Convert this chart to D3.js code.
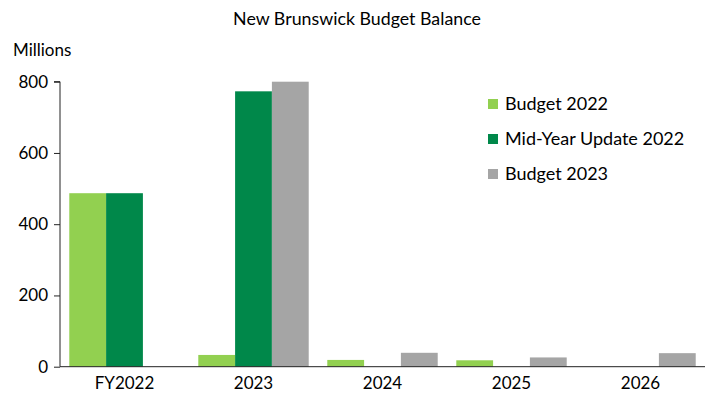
<!DOCTYPE html>
<html>
<head>
<meta charset="utf-8">
<script src="https://cdn.jsdelivr.net/npm/d3@7"></script>
<style>
  body { margin: 0; background: #fff; }
  text { font-family: Lato, "Open Sans", sans-serif; fill: #000; }
</style>
</head>
<body>
<div id="chart"></div>
<script>
const categories = ["FY2022", "2023", "2024", "2025", "2026"];
const seriesNames = ["Budget 2022", "Mid-Year Update 2022", "Budget 2023"];
const budget2022 = [487, 33, 19, 18, 0];
const midYear2022 = [487, 773, 0, 0, 0];
const budget2023 = [0, 800, 39, 26, 38];
const yTicks = [0, 200, 400, 600, 800];

const colors = ["#92D050", "#00884A", "#A5A5A5"];
const width = 711, height = 396;
const values = [budget2022, midYear2022, budget2023];

const svg = d3.select("#chart").append("svg")
    .attr("width", width).attr("height", height);

const x = d3.scaleBand().domain(categories).range([60, 705])
    .paddingInner(0.144).paddingOuter(0.072);
const xs = d3.scaleBand().domain(d3.range(3)).range([0, x.bandwidth()]);
const y = d3.scaleLinear().domain([0, 800]).range([366.7, 81.7]);

// bars
const groups = svg.selectAll("g.cat")
    .data(categories)
    .enter().append("g")
    .attr("transform", d => `translate(${x(d)},0)`);

groups.selectAll("rect")
    .data((d, i) => values.map((s, k) => ({k: k, v: s[i]})))
    .enter().append("rect")
    .filter(d => d.v > 0)
    .attr("x", d => xs(d.k))
    .attr("y", d => y(d.v))
    .attr("width", xs.bandwidth())
    .attr("height", d => y(0) - y(d.v))
    .style("fill", d => colors[d.k]);

// y axis
const yAxis = svg.append("g")
    .attr("transform", "translate(60,0)")
    .call(d3.axisLeft(y).tickValues(yTicks).tickSize(6).tickPadding(6));
yAxis.select(".domain").attr("stroke", "#222").attr("d", `M-6,${y(800)}H0V${y(0)}`);
yAxis.selectAll(".tick line").attr("stroke", "#222");
yAxis.selectAll(".tick text").style("font-size", "17px").attr("x", -12);

// x axis
const xAxis = svg.append("g")
    .attr("transform", `translate(0,${y(0)})`)
    .call(d3.axisBottom(x).tickSize(0).tickPadding(10));
xAxis.select(".domain").attr("stroke", "#222").attr("d", "M60,0H705");
xAxis.selectAll(".tick text").style("font-size", "17px");

// title and unit
svg.append("text")
    .attr("x", 357).attr("y", 25)
    .attr("text-anchor", "middle")
    .style("font-size", "17.8px")
    .text("New Brunswick Budget Balance");

svg.append("text")
    .attr("x", 13).attr("y", 56)
    .style("font-size", "17px")
    .text("Millions");

// legend
const legend = svg.append("g").attr("transform", "translate(488,0)");
const rowY = [104, 139, 174];
seriesNames.forEach((name, i) => {
    legend.append("rect")
        .attr("x", 0).attr("y", rowY[i] - 5)
        .attr("width", 10).attr("height", 10)
        .style("fill", colors[i]);
    legend.append("text")
        .attr("x", 17).attr("y", rowY[i] + 6)
        .style("font-size", "18px")
        .text(name);
});
</script>
</body>
</html>
